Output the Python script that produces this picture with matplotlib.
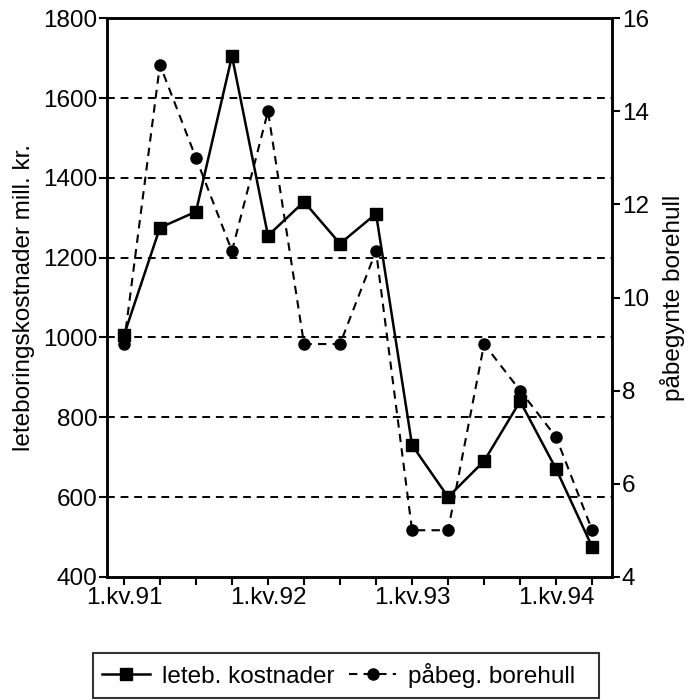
import matplotlib
matplotlib.use("Agg")
import matplotlib.pyplot as plt

plt.rcParams['font.family'] = ['Liberation Sans', 'DejaVu Sans']

# quarters 1.kv.91 .. 2.kv.94
quarters = ["1.kv.91", "2.kv.91", "3.kv.91", "4.kv.91",
            "1.kv.92", "2.kv.92", "3.kv.92", "4.kv.92",
            "1.kv.93", "2.kv.93", "3.kv.93", "4.kv.93",
            "1.kv.94", "2.kv.94"]
shown_labels = ["1.kv.91", "1.kv.92", "1.kv.93", "1.kv.94"]

# leteboringskostnader, mill. kr.
kostnader = [1005, 1275, 1315, 1705, 1255, 1340, 1235, 1310,
             730, 600, 690, 840, 670, 475]
# påbegynte borehull
borehull = [9, 15, 13, 11, 14, 9, 9, 11, 5, 5, 9, 8, 7, 5]

fs = 17.5
x = list(range(len(quarters)))

fig = plt.figure(figsize=(6.97, 7.00), dpi=100)
ax = fig.add_axes([0.1535, 0.176, 0.7245, 0.798])
ax2 = ax.twinx()

l1, = ax.plot(x, kostnader, color="black", lw=1.8, marker="s", ms=8,
              label="leteb. kostnader")
l2, = ax2.plot(x, borehull, color="black", lw=1.5, ls=(0, (4, 3)), marker="o", ms=8,
               label="påbeg. borehull  ")

ax.set_ylim(400, 1800)
ax.set_yticks(range(400, 1801, 200))
ax2.set_ylim(4, 16)
ax2.set_yticks(range(4, 17, 2))
ax.set_xlim(-0.47, 13.55)
ax.set_xticks(x)
ax.set_xticklabels([q if q in shown_labels else "" for q in quarters])

for gy in range(600, 1800, 200):
    ax.axhline(gy, color="black", lw=1.4, ls=(0, (4, 3)), zorder=0)

for a in (ax, ax2):
    for s in a.spines.values():
        s.set_linewidth(1.8)
    a.tick_params(direction="out", length=6, width=1.5, labelsize=fs, pad=1)

ax.set_ylabel("leteboringskostnader mill. kr.", fontsize=fs, labelpad=6)
ax2.set_ylabel("påbegynte borehull", fontsize=fs, labelpad=8)

leg = fig.legend(handles=[l1, l2], loc="upper center", bbox_to_anchor=(0.496, 0.067),
                 ncol=2, fontsize=fs, frameon=True, fancybox=False, edgecolor="black",
                 handlelength=1.95, handletextpad=0.5, columnspacing=0.6,
                 borderpad=0.4, borderaxespad=0)
leg.get_frame().set_linewidth(1.5)

fig.savefig("out.png", dpi=100)
